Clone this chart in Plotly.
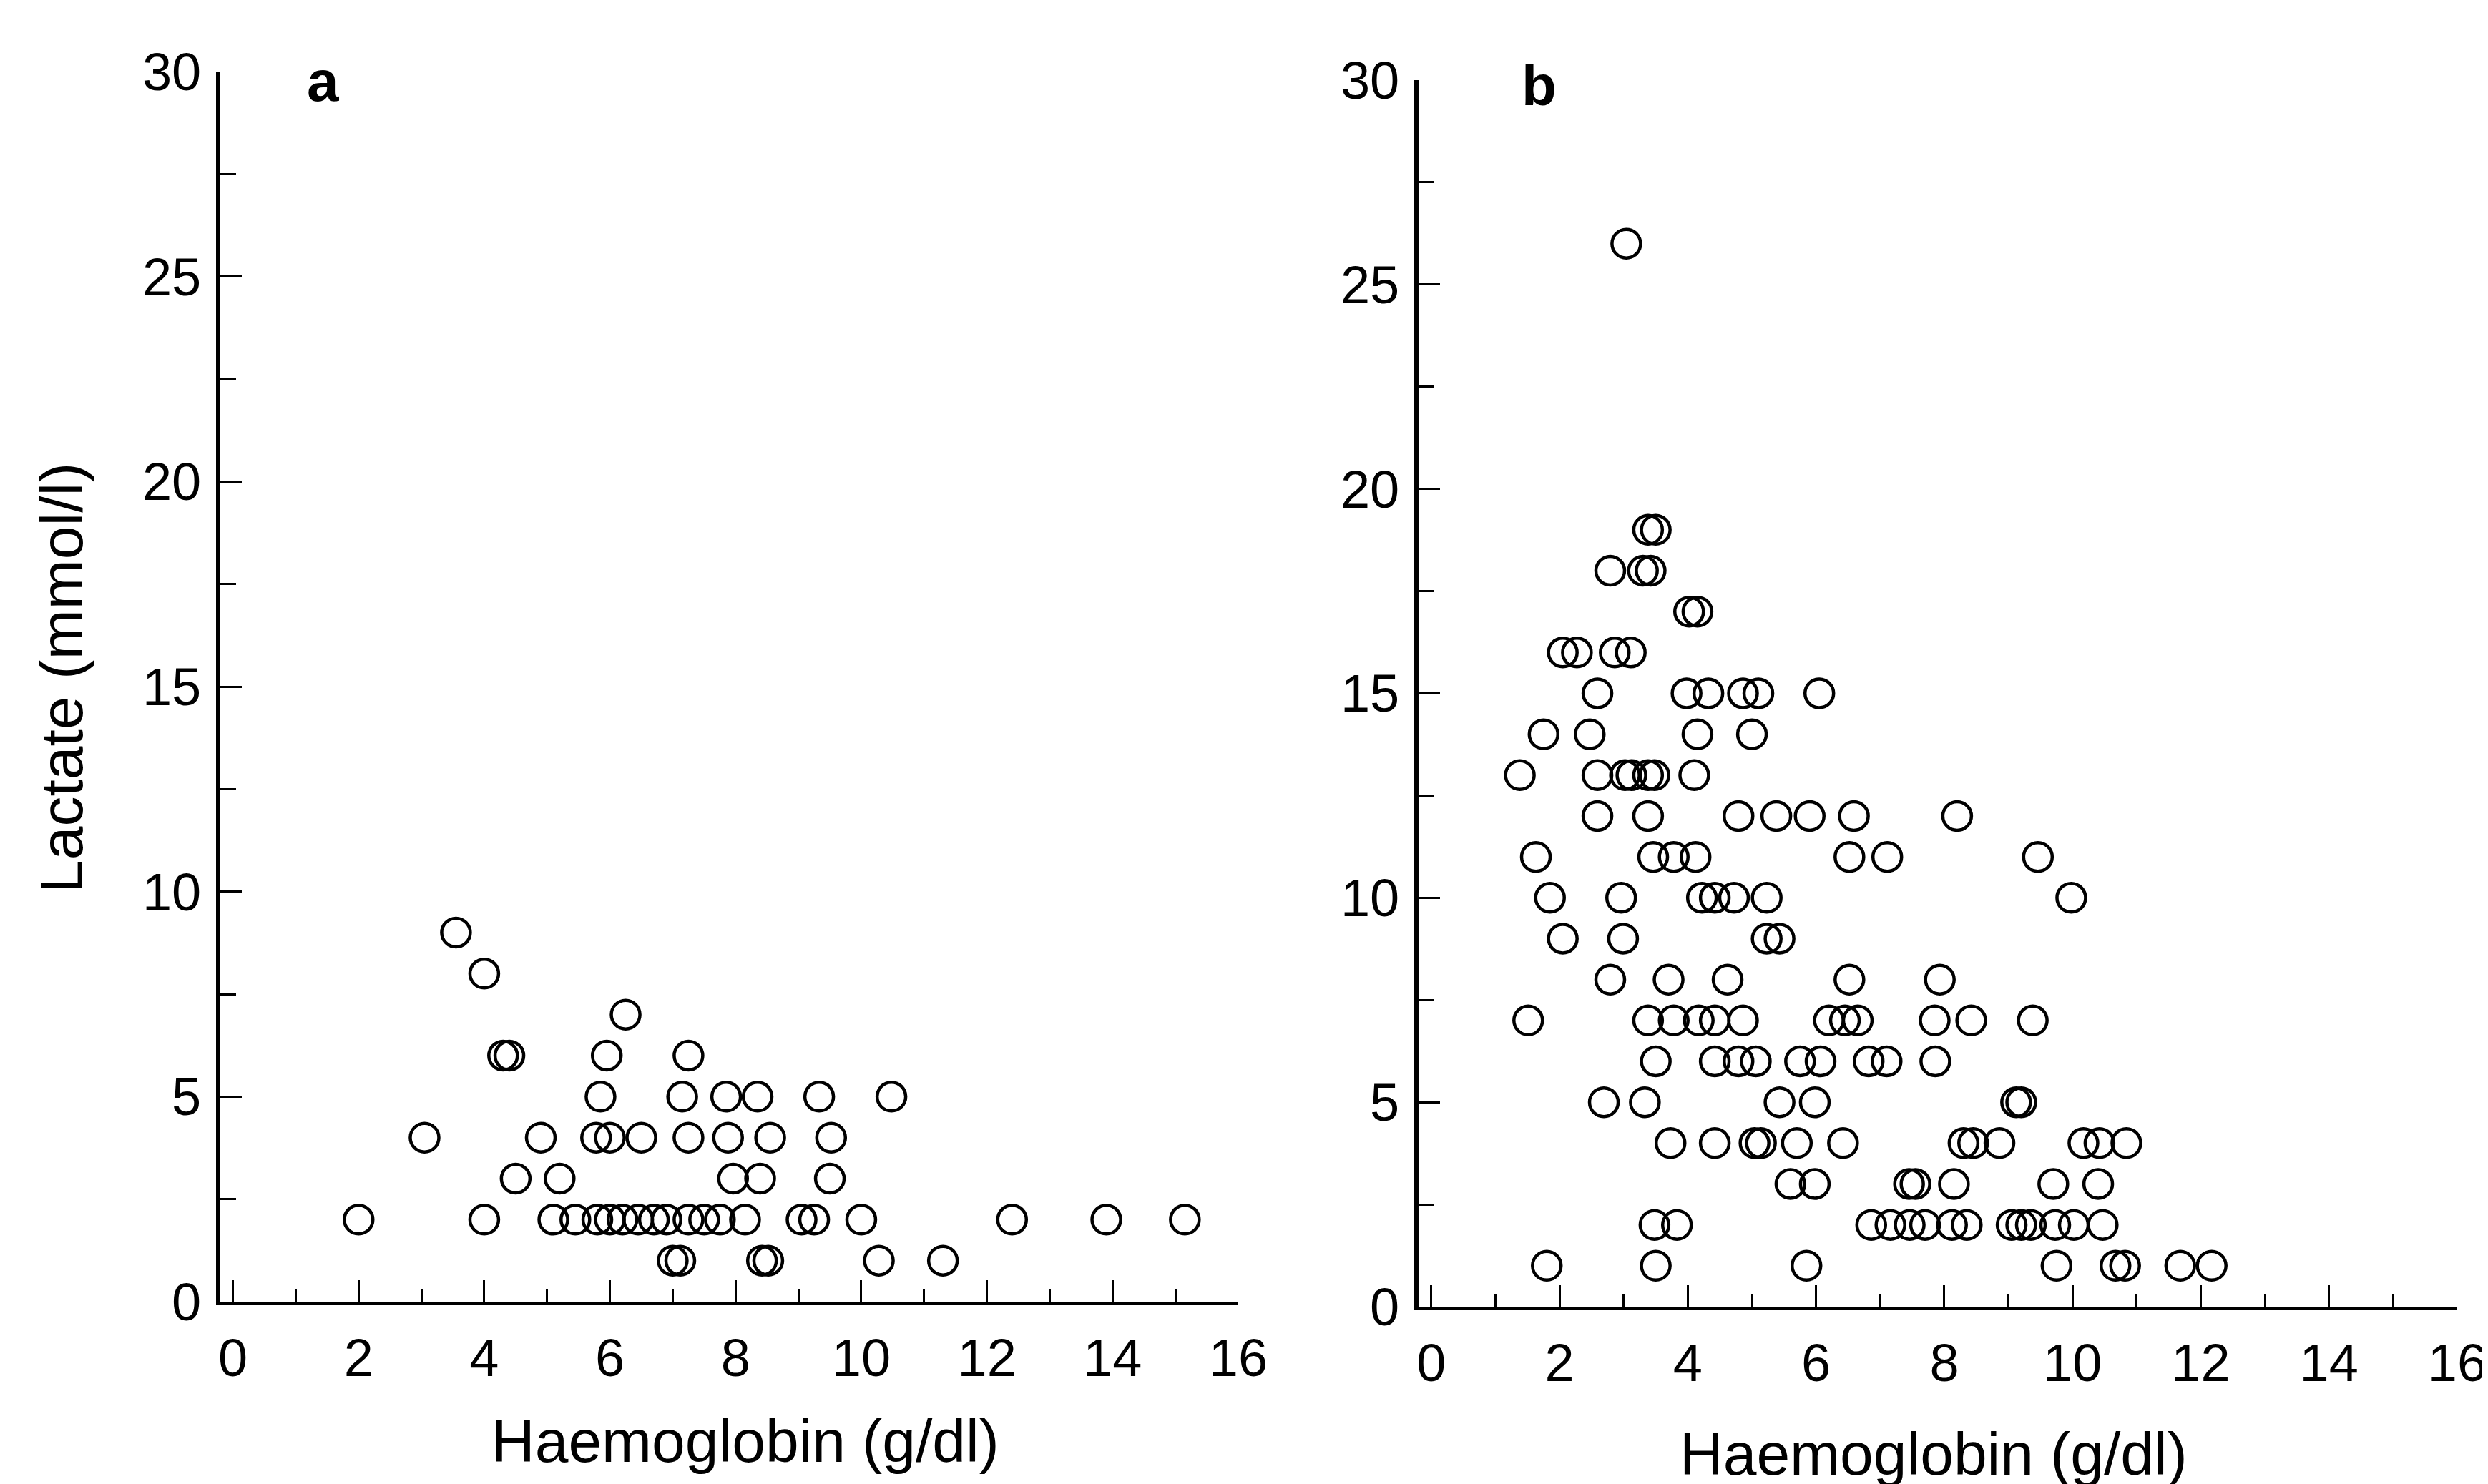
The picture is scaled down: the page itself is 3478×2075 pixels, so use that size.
import plotly.graph_objects as go

# Panel a: haemoglobin (g/dl) vs lactate (mmol/l)
hb_a = [2.0, 3.05, 3.55, 4.0, 4.0, 4.3, 4.4, 4.5, 4.9, 5.2, 5.1, 5.45, 5.8, 6.0, 6.2, 6.45,
        6.7, 6.9, 7.25, 7.5, 7.75, 8.15, 9.05, 9.25, 10.0, 6.25, 5.95, 7.25, 5.85, 7.15,
        7.85, 8.35, 9.33, 10.48, 5.78, 6.0, 6.5, 7.25, 7.88, 8.55, 9.52, 7.96, 8.39, 9.5,
        7.0, 7.12, 8.42, 8.52, 10.28, 11.3, 12.4, 13.9, 15.15]
lac_a = [2, 4, 9, 8, 2, 6, 6, 3, 4, 3, 2, 2, 2, 2, 2, 2,
         2, 2, 2, 2, 2, 2, 2, 2, 2, 7, 6, 6, 5, 5,
         5, 5, 5, 5, 4, 4, 4, 4, 4, 4, 4, 3, 3, 3,
         1, 1, 1, 1, 1, 1, 2, 2, 2]

# Panel b
hb_b = [3.04,
        3.38, 3.5,
        2.79, 3.3, 3.42,
        4.02, 4.15,
        2.05, 2.27, 2.86, 3.11,
        2.59, 3.98, 4.32, 4.86, 5.1, 6.05,
        1.75, 2.47, 4.15, 5.0,
        1.38, 2.59, 3.02, 3.12, 3.38, 3.48, 4.1,
        2.59, 3.38, 4.79, 5.38, 5.9, 6.59, 8.2,
        1.63, 3.46, 3.78, 4.12, 6.52, 7.11, 9.46,
        1.85, 2.96, 4.22, 4.42, 4.72, 5.23, 9.98,
        2.05, 2.99, 5.23, 5.43,
        2.79, 3.70, 4.62, 6.52, 7.93,
        1.51, 3.38, 3.78, 4.17, 4.42, 4.86, 6.2, 6.45, 6.65, 7.85, 8.42, 9.38,
        3.5, 4.42, 4.79, 5.06, 5.75, 6.07, 6.82, 7.1, 7.86,
        2.69, 3.33, 5.43, 5.98, 9.12, 9.2,
        3.73, 4.42, 5.04, 5.14, 5.7, 6.42, 8.3, 8.45, 8.86, 10.17, 10.42, 10.84,
        5.6, 5.98, 7.45, 7.55, 8.15, 9.7, 10.4,
        3.48, 3.83, 6.86, 7.16, 7.46, 7.7, 8.12, 8.35, 9.05, 9.2, 9.35, 9.73, 10.02, 10.47,
        1.8, 3.5, 5.85, 9.75, 10.67, 10.82, 11.68, 12.17]
lac_b = [26,
         19, 19,
         18, 18, 18,
         17, 17,
         16, 16, 16, 16,
         15, 15, 15, 15, 15, 15,
         14, 14, 14, 14,
         13, 13, 13, 13, 13, 13, 13,
         12, 12, 12, 12, 12, 12, 12,
         11, 11, 11, 11, 11, 11, 11,
         10, 10, 10, 10, 10, 10, 10,
         9, 9, 9, 9,
         8, 8, 8, 8, 8,
         7, 7, 7, 7, 7, 7, 7, 7, 7, 7, 7, 7,
         6, 6, 6, 6, 6, 6, 6, 6, 6,
         5, 5, 5, 5, 5, 5,
         4, 4, 4, 4, 4, 4, 4, 4, 4, 4, 4, 4,
         3, 3, 3, 3, 3, 3, 3,
         2, 2, 2, 2, 2, 2, 2, 2, 2, 2, 2, 2, 2, 2,
         1, 1, 1, 1, 1, 1, 1, 1]

x_ticks = [0, 2, 4, 6, 8, 10, 12, 14, 16]
y_ticks = [0, 5, 10, 15, 20, 25, 30]
panel_labels = ["a", "b"]
x_title = "Haemoglobin (g/dl)"
y_title = "Lactate (mmol/l)"

W, H = 3478, 2075
FONT = "Liberation Sans, Arial, Helvetica, sans-serif"

marker = dict(symbol="circle-open", size=40, color="black", line=dict(width=4.5, color="black"))

fig = go.Figure()
fig.add_trace(go.Scatter(x=hb_a, y=lac_a, mode="markers", marker=marker, xaxis="x", yaxis="y",
                         showlegend=False))
fig.add_trace(go.Scatter(x=hb_b, y=lac_b, mode="markers", marker=marker, xaxis="x2", yaxis="y2",
                         showlegend=False))

def xax(domain, anchor):
    return dict(domain=domain, anchor=anchor, range=[-0.2, 16], tickvals=x_ticks,
                ticks="inside", ticklen=30, tickwidth=3, tickcolor="black",
                minor=dict(dtick=1, tick0=0, ticks="inside", ticklen=18, tickwidth=3, tickcolor="black"),
                showline=True, linecolor="black", linewidth=5, showgrid=False, zeroline=False,
                ticklabelstandoff=10,
                tickfont=dict(family=FONT, size=74, color="black"), automargin=False)

def yax(domain, anchor):
    return dict(domain=domain, anchor=anchor, range=[0, 30], tickvals=y_ticks,
                ticks="inside", ticklen=30, tickwidth=3, tickcolor="black",
                minor=dict(dtick=2.5, tick0=0, ticks="inside", ticklen=22, tickwidth=3, tickcolor="black"),
                showline=True, linecolor="black", linewidth=6, showgrid=False, zeroline=False,
                ticklabelstandoff=6,
                tickfont=dict(family=FONT, size=74, color="black"), automargin=False)

xa_dom = [300 / W, 1723 / W]
xb_dom = [1975 / W, 3427 / W]
ya_dom = [1 - 1812 / H, 1 - 92 / H]
yb_dom = [1 - 1819 / H, 1 - 104 / H]

fig.update_layout(
    width=W, height=H, autosize=False,
    margin=dict(l=0, r=0, t=0, b=0),
    paper_bgcolor="white", plot_bgcolor="white",
    xaxis=xax(xa_dom, "y"),
    yaxis=yax(ya_dom, "x"),
    xaxis2=xax(xb_dom, "y2"),
    yaxis2=yax(yb_dom, "x2"),
    annotations=[
        dict(text="<b>" + panel_labels[0] + "</b>", x=444 / W, y=1 - 106 / H, xref="paper", yref="paper",
             showarrow=False, font=dict(family=FONT, size=80, color="black"),
             xanchor="center", yanchor="middle"),
        dict(text="<b>" + panel_labels[1] + "</b>", x=2143 / W, y=1 - 112 / H, xref="paper", yref="paper",
             showarrow=False, font=dict(family=FONT, size=80, color="black"),
             xanchor="center", yanchor="middle"),
        dict(text=x_title, x=1034 / W, y=1 - 2007 / H, xref="paper", yref="paper",
             showarrow=False, font=dict(family=FONT, size=84, color="black"),
             xanchor="center", yanchor="middle"),
        dict(text=x_title, x=2695 / W, y=1 - 2025 / H, xref="paper", yref="paper",
             showarrow=False, font=dict(family=FONT, size=84, color="black"),
             xanchor="center", yanchor="middle"),
        dict(text=y_title, x=78 / W, y=1 - 940 / H, xref="paper", yref="paper",
             showarrow=False, textangle=-90, font=dict(family=FONT, size=84, color="black"),
             xanchor="center", yanchor="middle"),
    ],
)

fig.write_html("out.html")
